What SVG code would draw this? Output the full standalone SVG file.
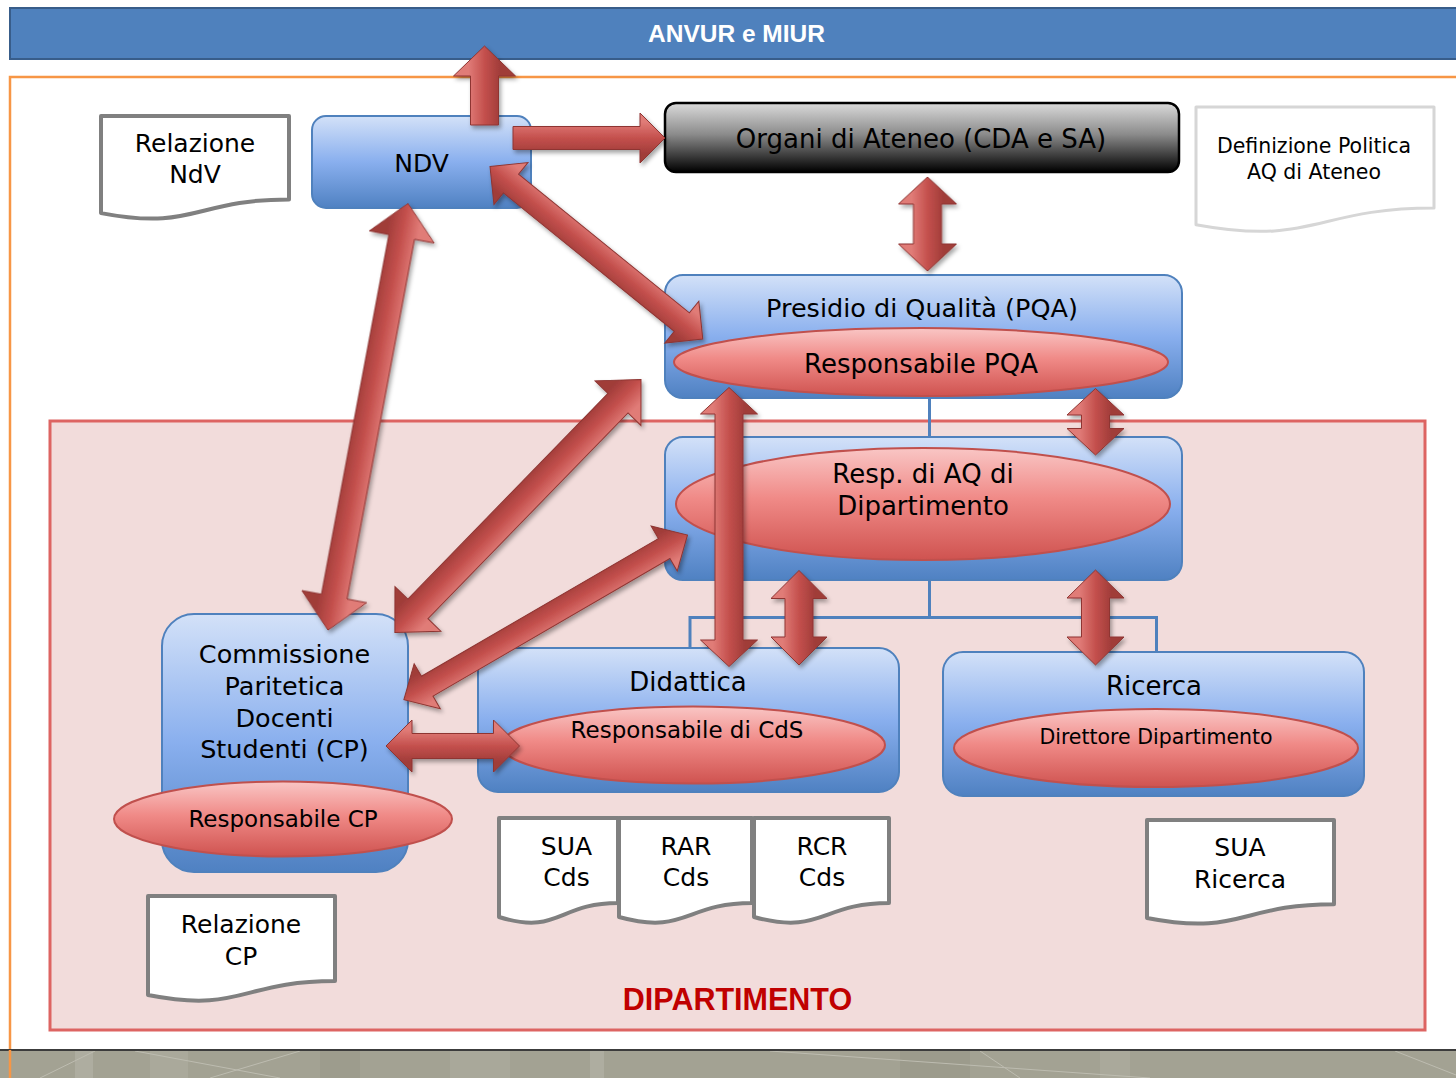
<svg xmlns="http://www.w3.org/2000/svg" width="1456" height="1078" viewBox="0 0 1456 1078">
<defs>
<linearGradient id="gBlue" x1="0" y1="0" x2="0" y2="1">
<stop offset="0" stop-color="#d3e1f8"/><stop offset="0.5" stop-color="#89afee"/><stop offset="1" stop-color="#4f81c2"/>
</linearGradient>
<linearGradient id="gRed" x1="0" y1="0" x2="0" y2="1">
<stop offset="0" stop-color="#f9c6c5"/><stop offset="0.45" stop-color="#f08a87"/><stop offset="1" stop-color="#cf5350"/>
</linearGradient>
<linearGradient id="gBlack" x1="0" y1="0" x2="0" y2="1">
<stop offset="0" stop-color="#dadada"/><stop offset="0.45" stop-color="#8c8c8c"/><stop offset="1" stop-color="#000000"/>
</linearGradient>
<linearGradient id="gArrow" gradientUnits="userSpaceOnUse" x1="0" y1="-16" x2="0" y2="16">
<stop offset="0" stop-color="#e07b77"/><stop offset="0.5" stop-color="#c4504d"/><stop offset="1" stop-color="#a03c39"/>
</linearGradient>
<filter id="shadow" x="-10%" y="-10%" width="120%" height="120%">
<feDropShadow dx="2" dy="3" stdDeviation="2" flood-color="#000" flood-opacity="0.35"/>
</filter>
</defs>
<style>
.box{fill:url(#gBlue);stroke:#4f81bd;stroke-width:2}
.ell{fill:url(#gRed);stroke:#c0504d;stroke-width:2}
.doc{fill:#ffffff;stroke:#808080;stroke-width:4;stroke-linejoin:round}
.t{font-family:"DejaVu Sans","Liberation Sans",sans-serif;fill:#000;text-anchor:middle}
.arr{fill:url(#gArrow);stroke:#8e3532;stroke-width:1;stroke-linejoin:miter}
.conn{stroke:#4f81bd;stroke-width:3;fill:none}
</style>
<rect x="0" y="0" width="1456" height="1078" fill="#ffffff"/>
<g id="frame">
<rect x="10" y="77" width="1460" height="1010" fill="#ffffff" stroke="#f79646" stroke-width="2.5"/>
</g>
<g id="dipartimento">
<rect x="50" y="421" width="1375" height="609" fill="#f2dcdb" stroke="#dd6462" stroke-width="3"/>
<text class="t" x="737.5" y="1010" style="font-family:'Liberation Sans',Arial,sans-serif;font-weight:bold;font-size:30.5px;fill:#c00000">DIPARTIMENTO</text>
</g>
<g id="bottom-band">
<rect x="0" y="1050" width="1456" height="28" fill="#a3a293"/>
<rect x="75" y="1051" width="18" height="27" fill="#aeada0"/>
<rect x="150" y="1051" width="38" height="27" fill="#aaa99b"/>
<rect x="320" y="1051" width="40" height="27" fill="#9d9c8d"/>
<rect x="450" y="1051" width="60" height="27" fill="#a9a89a"/>
<rect x="590" y="1051" width="14" height="27" fill="#aeada0"/>
<rect x="900" y="1051" width="70" height="27" fill="#9c9b8c"/>
<rect x="1100" y="1051" width="30" height="27" fill="#aaa99b"/>
<path d="M40 1078 L95 1051 M135 1051 L280 1078 M210 1078 L300 1051 M770 1051 L1150 1078 M980 1051 L1020 1078 M1395 1051 L1456 1075" stroke="#bdbcb0" stroke-width="1" fill="none"/>
<line x1="0" y1="1050" x2="1456" y2="1050" stroke="#3c3c3c" stroke-width="2"/>
<line x1="10" y1="1050" x2="10" y2="1078" stroke="#f79646" stroke-width="2.5"/>
</g>
<g id="anvur">
<rect x="10" y="8" width="1460" height="51" fill="#4f81bd" stroke="#385d8a" stroke-width="2"/>
<text x="736.5" y="42" style="font-family:'Liberation Sans',Arial,sans-serif;font-weight:bold;font-size:24.5px;fill:#ffffff;text-anchor:middle">ANVUR e MIUR</text>
</g>
<g id="connector-lines">
<line class="conn" x1="929.5" y1="397" x2="929.5" y2="438"/>
<path class="conn" d="M929.5 579 V617.5 M690 650 V617.5 H1156.5 V652"/>
</g>
<g id="relazione-ndv">
<path class="doc" d="M101 116 H289 V199.4 C195 199.4 195 231.1 101 213.1 Z"/>
<text class="t" x="195" y="152" font-size="25">Relazione</text>
<text class="t" x="195" y="183" font-size="25">NdV</text>
</g>
<g id="ndv">
<rect class="box" x="312" y="116" width="219" height="92" rx="14"/>
<text class="t" x="421.5" y="172" font-size="25">NDV</text>
</g>
<g id="organi">
<rect x="665" y="103" width="514" height="69" rx="11" fill="url(#gBlack)" stroke="#000" stroke-width="2.5"/>
<text class="t" x="921" y="148" font-size="26">Organi di Ateneo (CDA e SA)</text>
</g>
<g id="definizione">
<path class="doc" style="stroke:#d6d6d6;stroke-width:3" d="M1196 107 H1434 V208 C1315 208 1315 246.5 1196 224.7 Z"/>
<text class="t" x="1314" y="153" font-size="20.5">Definizione Politica</text>
<text class="t" x="1314" y="179" font-size="20.5">AQ di Ateneo</text>
</g>
<g id="pqa">
<rect class="box" x="665" y="275" width="517" height="123" rx="18"/>
<text class="t" x="922" y="317" font-size="25.5">Presidio di Qualità (PQA)</text>
<ellipse class="ell" cx="921" cy="362" rx="247" ry="34"/>
<text class="t" x="921" y="373" font-size="26">Responsabile PQA</text>
</g>
<g id="resp-aq-dip">
<rect class="box" x="665" y="437" width="517" height="143" rx="18"/>
<ellipse class="ell" cx="923" cy="504" rx="247" ry="56"/>
<text class="t" x="923" y="483" font-size="26">Resp. di AQ di</text>
<text class="t" x="923" y="515" font-size="26">Dipartimento</text>
</g>
<g id="didattica">
<rect class="box" x="478" y="648" width="421" height="144" rx="20"/>
<text class="t" x="688" y="691" font-size="26">Didattica</text>
<ellipse class="ell" cx="693" cy="745" rx="192" ry="38.5"/>
<text class="t" x="687" y="738" font-size="23">Responsabile di CdS</text>
</g>
<g id="ricerca">
<rect class="box" x="943" y="652" width="421" height="144" rx="20"/>
<text class="t" x="1154" y="695" font-size="26">Ricerca</text>
<ellipse class="ell" cx="1156" cy="748" rx="202" ry="39"/>
<text class="t" x="1156" y="744" font-size="20.5">Direttore Dipartimento</text>
</g>
<g id="commissione">
<rect class="box" x="162" y="614" width="246" height="258" rx="32"/>
<text class="t" x="284.5" y="663" font-size="25.5">Commissione</text>
<text class="t" x="284.5" y="695" font-size="25.5">Paritetica</text>
<text class="t" x="284.5" y="727" font-size="25.5">Docenti</text>
<text class="t" x="284.5" y="758" font-size="25.5">Studenti (CP)</text>
<ellipse class="ell" cx="283" cy="819" rx="169" ry="37.5"/>
<text class="t" x="283" y="827" font-size="23">Responsabile CP</text>
</g>
<g id="sua-cds">
<path class="doc" d="M499 818 H618 V903 C558.5 903 558.5 935.4 499 917 Z"/>
<text class="t" x="566.5" y="855" font-size="25">SUA</text>
<text class="t" x="566.5" y="886" font-size="25">Cds</text>
</g>
<g id="rar-cds">
<path class="doc" d="M619 818 H752 V903 C685.5 903 685.5 935.4 619 917 Z"/>
<text class="t" x="686" y="855" font-size="25">RAR</text>
<text class="t" x="686" y="886" font-size="25">Cds</text>
</g>
<g id="rcr-cds">
<path class="doc" d="M754 818 H889 V903 C821.5 903 821.5 935.4 754 917 Z"/>
<text class="t" x="822" y="855" font-size="25">RCR</text>
<text class="t" x="822" y="886" font-size="25">Cds</text>
</g>
<g id="sua-ricerca">
<path class="doc" d="M1147 820 H1334 V904.2 C1240.5 904.2 1240.5 936.3 1147 918 Z"/>
<text class="t" x="1240" y="856" font-size="25">SUA</text>
<text class="t" x="1240" y="888" font-size="25">Ricerca</text>
</g>
<g id="relazione-cp">
<path class="doc" d="M148 896 H335 V981 C241.5 981 241.5 1013.4 148 995 Z"/>
<text class="t" x="241" y="933" font-size="25">Relazione</text>
<text class="t" x="241" y="965" font-size="25">CP</text>
</g>
<g id="connectors" filter="url(#shadow)">
<g transform="translate(484.5,125) rotate(-90)"><path class="arr" d="M0,-14 L49,-14 L49,-31 L79,0 L49,31 L49,14 L0,14 Z"/></g>
<g transform="translate(513,138)"><path class="arr" d="M0,-11.5 L127,-11.5 L127,-25 L152,0 L127,25 L127,11.5 L0,11.5 Z"/></g>
<g transform="translate(927.5,271) rotate(-90)"><path class="arr" d="M0,0 L27,-29 L27,-14 L67,-14 L67,-29 L94,0 L67,29 L67,14 L27,14 L27,29 Z"/></g>
<g transform="translate(490,166.5) rotate(39.05)"><path class="arr" d="M0,0 L27,-27 L27,-12 L247,-12 L247,-27 L274,0 L247,27 L247,12 L27,12 L27,27 Z"/></g>
<g transform="translate(408,203.5) rotate(100.62)"><path class="arr" d="M0,0 L34,-33 L34,-13 L400,-13 L400,-33 L434,0 L400,33 L400,13 L34,13 L34,33 Z"/></g>
<g transform="translate(641,379.5) rotate(134.2)"><path class="arr" d="M0,0 L33,-32 L33,-14 L320,-14 L320,-32 L353,0 L320,32 L320,14 L33,14 L33,32 Z"/></g>
<g transform="translate(687.5,535) rotate(149.85)"><path class="arr" d="M0,0 L27,-26 L27,-11.5 L301,-11.5 L301,-26 L328,0 L301,26 L301,11.5 L27,11.5 L27,26 Z"/></g>
<g transform="translate(386,746)"><path class="arr" d="M0,0 L26,-26 L26,-12.5 L107.5,-12.5 L107.5,-26 L133.5,0 L107.5,26 L107.5,12.5 L26,12.5 L26,26 Z"/></g>
<g transform="translate(729,666.5) rotate(-90)"><path class="arr" d="M0,0 L26.5,-28.5 L26.5,-14 L252.5,-14 L252.5,-28.5 L279,0 L252.5,28.5 L252.5,14 L26.5,14 L26.5,28.5 Z"/></g>
<g transform="translate(799,665) rotate(-90)"><path class="arr" d="M0,0 L28,-28 L28,-14 L66.5,-14 L66.5,-28 L94.5,0 L66.5,28 L66.5,14 L28,14 L28,28 Z"/></g>
<g transform="translate(1095.5,455) rotate(-90)"><path class="arr" d="M0,0 L26.5,-28.5 L26.5,-14 L40,-14 L40,-28.5 L66.5,0 L40,28.5 L40,14 L26.5,14 L26.5,28.5 Z"/></g>
<g transform="translate(1095.5,665) rotate(-90)"><path class="arr" d="M0,0 L28,-28.5 L28,-14 L67,-14 L67,-28.5 L95,0 L67,28.5 L67,14 L28,14 L28,28.5 Z"/></g>
</g>
</svg>
